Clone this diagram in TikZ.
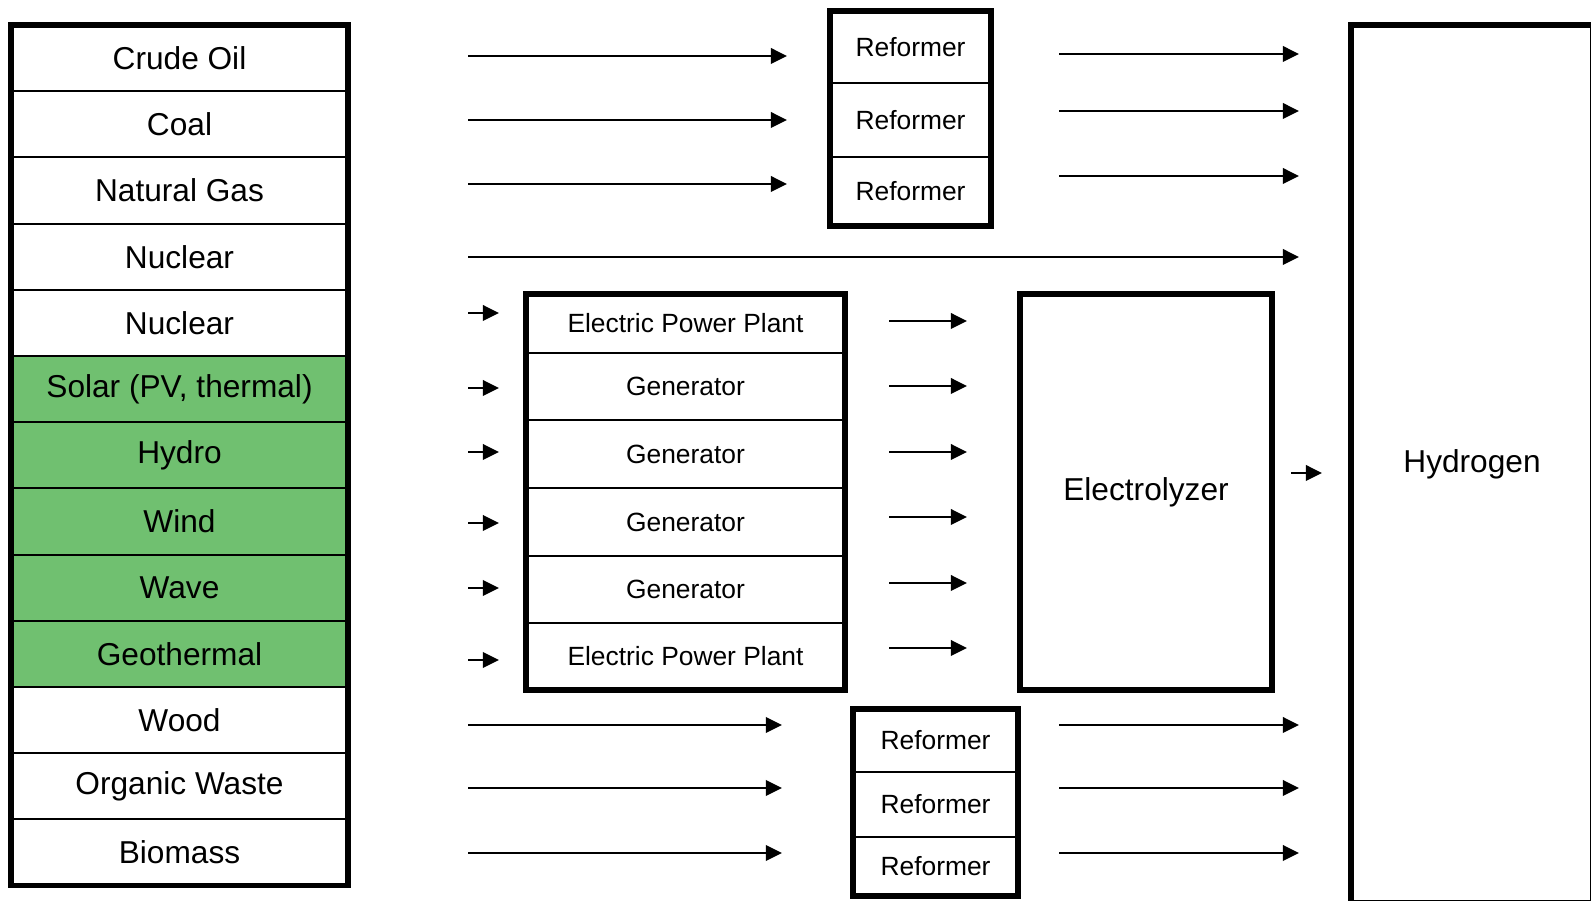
\documentclass[tikz,border=0pt]{standalone}
\usepackage{fontspec}
\setmainfont{Liberation Sans}
\usepackage{xcolor}
\usetikzlibrary{arrows.meta, positioning}
\definecolor{cGreen}{RGB}{112,192,112}
\tikzset{
    srccell/.style   ={rectangle, draw=black, line width=0.6pt, minimum width=3.37cm, minimum height=0.662cm, inner sep=0pt, outer sep=0pt, font=\fontsize{9}{11}\selectfont},
    stepcell/.style  ={rectangle, draw=black, line width=0.6pt, inner sep=0pt, outer sep=0pt, font=\fontsize{7.5}{9}\selectfont},
    bigbox/.style    ={rectangle, draw=black, line width=1.6pt, inner sep=0pt, outer sep=0pt, font=\fontsize{9}{11}\selectfont},
    frameline/.style ={draw=black, line width=1.6pt},
    flowarrow/.style ={-{Triangle[length=4.6pt, width=4.4pt]}, line width=0.7pt},
}
\begin{document}
\begin{tikzpicture}[x=0.01cm, y=-0.01cm]
    \useasboundingbox (0,0) rectangle (1591,901);
    \clip (0,0) rectangle (1591,901);
    % energy sources
    \foreach \txt/\fl [count=\i] in {Crude Oil/white, Coal/white, Natural Gas/white, Nuclear/white, Nuclear/white,
        {Solar (PV, thermal)}/cGreen, Hydro/cGreen, Wind/cGreen, Wave/cGreen, Geothermal/cGreen,
        Wood/white, Organic Waste/white, Biomass/white} {
        \node[srccell, fill=\fl] (src\i) at (179.5,{25+66.2*(\i-0.5)}) {\txt};
    }
    \draw[frameline] (src1.north west) rectangle (src13.south east);
    % reformers (fossil)
    \foreach \ya/\yb [count=\i] in {11/83, 83/157, 157/226} {
        \node[stepcell, minimum width=1.61cm, minimum height={(\yb-\ya)*0.01cm}] (refA\i) at (910.5,{(\ya+\yb)/2}) {Reformer};
    }
    \draw[frameline] (refA1.north west) rectangle (refA3.south east);
    % power conversion
    \foreach \txt/\ya/\yb [count=\i] in {Electric Power Plant/294/353, Generator/353/420, Generator/420/488,
        Generator/488/556, Generator/556/623, Electric Power Plant/623/690} {
        \node[stepcell, minimum width=3.19cm, minimum height={(\yb-\ya)*0.01cm}] (gen\i) at (685.5,{(\ya+\yb)/2}) {\txt};
    }
    \draw[frameline] (gen1.north west) rectangle (gen6.south east);
    % reformers (biomass)
    \foreach \ya/\yb [count=\i] in {709/772, 772/837, 837/896} {
        \node[stepcell, minimum width=1.65cm, minimum height={(\yb-\ya)*0.01cm}] (refB\i) at (935.5,{(\ya+\yb)/2}) {Reformer};
    }
    \draw[frameline] (refB1.north west) rectangle (refB3.south east);
    % electrolyzer and product
    \node[bigbox, minimum width=2.52cm, minimum height=3.96cm] (elec) at (1146,492) {Electrolyzer};
    \node[bigbox, minimum width=2.42cm, minimum height=8.78cm] (hyd) at (1472,464) {Hydrogen};
    % arrows into top reformers
    \foreach \y [count=\i] in {56,120,184} {
        \coordinate (ta\i) at (468,\y);
        \coordinate (tb\i) at (787,\y);
        \draw[flowarrow] (ta\i) -- (tb\i);
    }
    % arrows out of top reformers
    \foreach \y [count=\i] in {54,111,176} {
        \coordinate (tc\i) at (1059,\y);
        \coordinate (td\i) at (1299,\y);
        \draw[flowarrow] (tc\i) -- (td\i);
    }
    % nuclear straight to hydrogen
    \coordinate (na) at (468,257);
    \coordinate (nb) at (1299,257);
    \draw[flowarrow] (na) -- (nb);
    % arrows into generators
    \foreach \y [count=\i] in {313,388,452,523,588,660} {
        \coordinate (ga\i) at (468,\y);
        \coordinate (gb\i) at (499,\y);
        \draw[flowarrow] (ga\i) -- (gb\i);
    }
    % arrows out of generators
    \foreach \y [count=\i] in {321,386,452,517,583,648} {
        \coordinate (gc\i) at (889,\y);
        \coordinate (gd\i) at (967,\y);
        \draw[flowarrow] (gc\i) -- (gd\i);
    }
    % electrolyzer to hydrogen
    \coordinate (ea) at (1291,473);
    \coordinate (eb) at (1322,473);
    \draw[flowarrow] (ea) -- (eb);
    % arrows through bottom reformers
    \foreach \y [count=\i] in {725,788,853} {
        \coordinate (ba\i) at (468,\y);
        \coordinate (bb\i) at (782,\y);
        \coordinate (bc\i) at (1059,\y);
        \coordinate (bd\i) at (1299,\y);
        \draw[flowarrow] (ba\i) -- (bb\i);
        \draw[flowarrow] (bc\i) -- (bd\i);
    }
\end{tikzpicture}
\end{document}
